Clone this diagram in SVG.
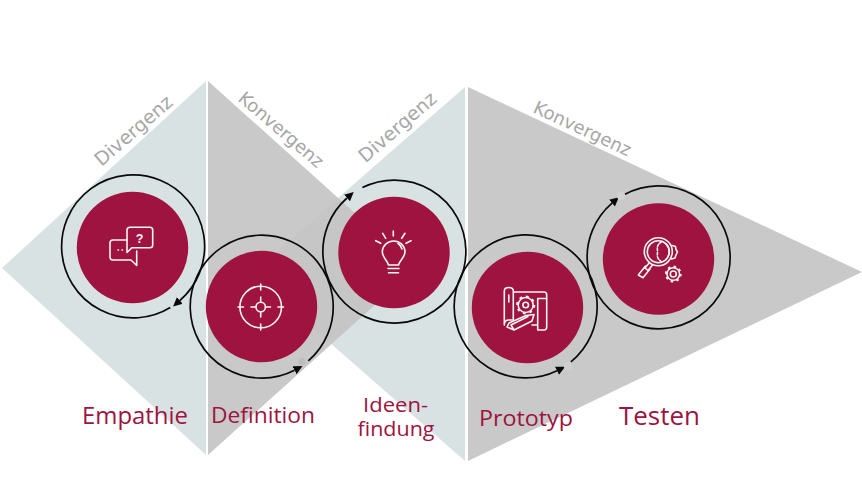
<svg xmlns="http://www.w3.org/2000/svg" width="862" height="491" viewBox="0 0 862 491">
<style>
.lt{fill:#d9e2e3}.gr{fill:#c9c9c9}
.disc{fill:#9e133f}
.ring{fill:none;stroke:#0a0a0a;stroke-width:1.7}
.ic{fill:none;stroke:#fdf5f7;stroke-width:1.6;stroke-linecap:round;stroke-linejoin:round}
.tooth{fill:none;stroke:#fdf5f7;stroke-width:2.200}
.side{font-family:"DejaVu Sans",sans-serif;font-size:18px;fill:#a6a6a6}
.dv{font-size:19px}
.lab{font-family:"Open Sans","Noto Sans",sans-serif;fill:#9e133f;text-anchor:middle}
</style>
<defs>
<marker id="ah" markerUnits="userSpaceOnUse" markerWidth="10" markerHeight="10" refX="0" refY="4.500" orient="auto"><path d="M0 0L9 4.500L0 9Z" fill="#0a0a0a"/></marker>
</defs>
<rect width="862" height="491" fill="#fff"/>
<g id="background">
<polygon class="lt" points="2,268 206,81 206,455"/>
<polygon class="lt" points="465,87 465,461 251,274"/>
<polygon points="208,81 208,455 416,268" fill="#c3c3c3" fill-opacity=".9"/>
<polygon class="gr" points="468,87 468,461 862,272"/>
</g>
<g id="phase-labels">
<text class="side dv" transform="translate(101.500,167) rotate(-41)">Divergenz</text>
<text class="side" transform="translate(237,100) rotate(40.500)">Konvergenz</text>
<text class="side dv" transform="translate(365.500,163.500) rotate(-41)">Divergenz</text>
<text class="side" transform="translate(532,112) rotate(25)">Konvergenz</text>
</g>
<g id="connectors">
<path class="ring" marker-end="url(#ah)" d="M170.300 307.500A71.500 71.500 0 1 1 179.900 300.500"/>
<path class="ring" marker-end="url(#ah)" d="M308.300 360.900A71.500 71.500 0 1 0 294.500 370.200"/>
<path class="ring" marker-end="url(#ah)" d="M362.400 187.600A71.500 71.500 0 1 1 347 198"/>
<path class="ring" marker-end="url(#ah)" d="M570.900 361.800A71.500 71.500 0 1 0 557 370.700"/>
<path class="ring" marker-end="url(#ah)" d="M625 194.200A71.500 71.500 0 1 1 612 203.100"/>
<circle cx="302" cy="361.500" r="3.500" fill="#bdbdbd"/>
<circle cx="568" cy="366" r="4" fill="#d0d0d0"/>
<circle cx="621" cy="196" r="4" fill="#d2d2d2"/>
</g>
<g id="node-empathie">
<circle class="disc" cx="132.500" cy="247.500" r="55.700"/>
<path class="ic" d="M127 240H113Q110 240 110 243V257Q110 260 113 260H131L136.700 265.500V251"/>
<path class="ic" d="M127 252.500V230Q127 227.300 130 227.300H150Q152.700 227.300 152.700 230V245Q152.700 247.700 150 247.700H132Z"/>
<path class="ic" d="M118 250h.5M122 250h.5"/>
<text x="139.500" y="243" font-family="'Liberation Sans',sans-serif" font-size="12.500" font-weight="700" fill="#fdf5f7" text-anchor="middle">?</text>
</g>
<g id="node-definition">
<circle class="disc" cx="261.500" cy="306.500" r="55.700"/>
<circle class="ic" cx="260.700" cy="307" r="20.800"/>
<circle class="ic" cx="260.700" cy="307" r="4.700"/>
<path class="ic" d="M260.700 284V290M260.700 324V330M238 307H243.500M278 307H283.500M260.700 297V302M260.700 312V317M251 307H256M265.500 307H270.500"/>
</g>
<g id="node-ideen">
<circle class="disc" cx="394" cy="252.500" r="55.700"/>
<path class="ic" d="M388.500 265C387.500 260 382.300 258 382.300 251.300A11.400 11.400 0 0 1 405 251.300C405 258 399.500 260 398.500 265Z"/>
<path class="ic" d="M398 243.500A9 9 0 0 1 402 249"/>
<path class="ic" d="M388 268.500H399M388.500 272.800H398.500"/>
<path class="ic" d="M393.300 231V236M382.700 233.300L385.700 238.300M405 233.300L401.700 238.300M375.700 240.700L380.700 243.300M411 240.700L406 243.300"/>
</g>
<g id="node-prototyp">
<circle class="disc" cx="527.500" cy="307.500" r="55.700"/>
<path class="ic" d="M504.300 325V291Q504.300 287.500 508.800 287.500Q513.300 287.500 513.300 291V320M504.300 325Q504.300 320 508.800 320H513.300M513.300 292H544Q546.700 292 546.700 295V327Q546.700 330 544 330H537.700V298.500H546.700M532 325H537.700"/>
<path class="ic" d="M508.800 302V295"/>
<circle class="tooth" cx="525.700" cy="305" r="8.500" stroke-dasharray="2.700 3.970"/>
<circle class="ic" cx="525.700" cy="305" r="7.500" stroke-width="1.300"/>
<circle class="ic" cx="525.700" cy="305" r="2.800"/>
<path class="ic" d="M507 327L514 330L532 321L534 314.500L526 315.500L509 323ZM514 330L511 325L528 316.500"/>
</g>
<g id="node-testen">
<circle class="disc" cx="658.500" cy="259" r="55.700"/>
<circle class="ic" cx="658.300" cy="251.700" r="14"/>
<circle class="ic" cx="658.300" cy="251.700" r="11"/>
<path class="ic" d="M649.500 262.500L645 268L648 270.500L652.500 265M645.500 266L638.300 275L643 277.700L650 269"/>
<path class="ic" d="M662 241.500C656 245 657.500 248 657.500 251.700C657.500 255 656 258.500 662 262" stroke-dasharray="2.500 1.800"/>
<path class="ic" d="M666 244A11 11 0 0 1 666 259.500"/>
<path class="ic" d="M672 245.500L675.500 246.500L676 249.500L677.500 252L676 255L675 258L671.500 259"/>
<circle class="tooth" cx="673.300" cy="274" r="7.300" stroke-dasharray="2.500 3.230"/>
<circle class="ic" cx="673.300" cy="274" r="6.300" stroke-width="1.300"/>
<circle class="ic" cx="673.300" cy="274" r="3"/>
</g>
<g id="step-labels">
<text class="lab" x="135" y="424" font-size="23" textLength="106" lengthAdjust="spacingAndGlyphs">Empathie</text>
<text class="lab" x="263" y="423" font-size="21.500" textLength="104" lengthAdjust="spacingAndGlyphs">Definition</text>
<text class="lab" x="395.500" y="412" font-size="20" textLength="65" lengthAdjust="spacingAndGlyphs">Ideen-</text>
<text class="lab" x="396" y="436" font-size="20" textLength="77" lengthAdjust="spacingAndGlyphs">findung</text>
<text class="lab" x="526" y="426" font-size="22" textLength="94" lengthAdjust="spacingAndGlyphs">Prototyp</text>
<text class="lab" x="659.500" y="425" font-size="25" textLength="81" lengthAdjust="spacingAndGlyphs">Testen</text>
</g>
</svg>
